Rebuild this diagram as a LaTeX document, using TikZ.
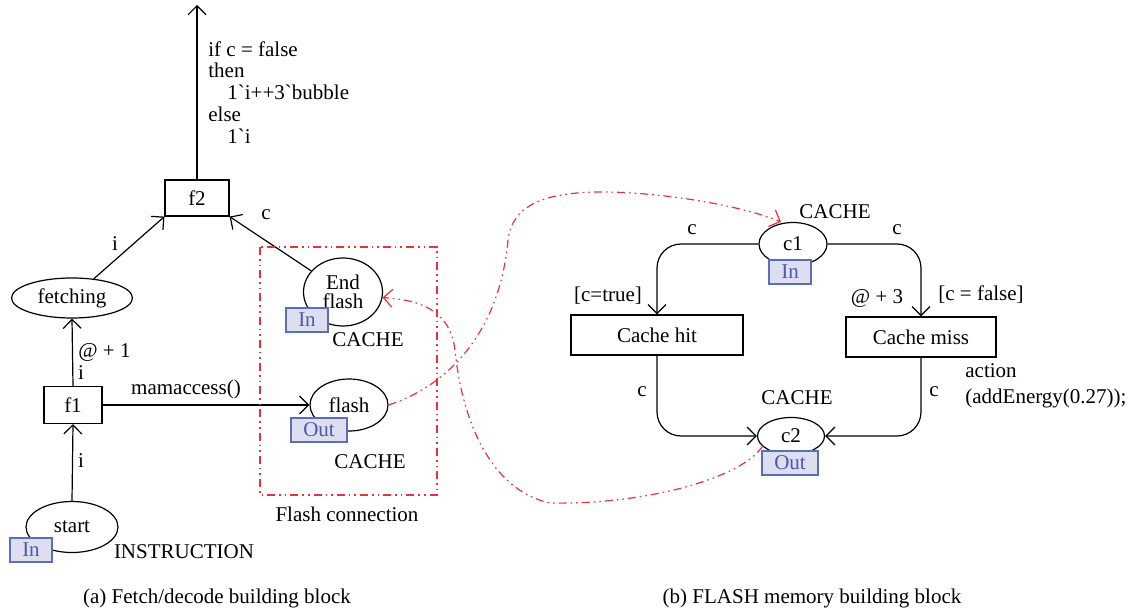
\documentclass[tikz,border=0pt]{standalone}
\usepackage{fontspec}
\setmainfont{Liberation Serif}
\usetikzlibrary{shapes.geometric,arrows.meta}
\definecolor{flred}{RGB}{232,50,58}
\definecolor{portfill}{RGB}{222,222,240}
\definecolor{portline}{RGB}{90,110,190}
\definecolor{porttext}{RGB}{70,90,175}
\tikzset{
  every node/.style={font=\fontsize{10.5}{10.9}\selectfont},
  place/.style={draw,ellipse,inner sep=0pt,line width=0.6pt},
  trans/.style={draw,rectangle,inner sep=0pt,line width=0.6pt},
  port/.style={draw=portline,fill=portfill,text=porttext,inner sep=0pt,minimum width=21pt,minimum height=12pt,line width=0.6pt},
  arc/.style={line width=0.6pt,-{Straight Barb[length=4.5pt,width=9pt]}},
  redlink/.style={flred,line width=0.6pt,dash pattern=on 4pt off 2pt on 0.8pt off 2pt on 0.8pt off 2pt,-{Straight Barb[length=4.5pt,width=9pt]}},
  lbl/.style={inner sep=0pt},
}
\begin{document}
\begin{tikzpicture}[x=0.5pt,y=-0.5pt]
\useasboundingbox (0,0) rectangle (1135,615);
% ---------- left part ----------
\node[trans,minimum width=32pt,minimum height=18pt] (f2) at (197,198) {f2};
\coordinate (top) at (197,5);
\node[place,minimum width=60.5pt,minimum height=20pt] (fetching) at (72,298) {fetching};
\node[trans,minimum width=29pt,minimum height=18.5pt] (f1) at (73,405) {f1};
\node[place,minimum width=46pt,minimum height=25.5pt] (start) at (72,527) {start};
\node[port] (startin) at (31,550) {In};
\node[place,minimum width=39.5pt,minimum height=34pt,align=center] (endf) at (343,292) {End\\[-1.5pt]flash};
\node[port] (endin) at (307,320) {In};
\node[place,minimum width=39pt,minimum height=26pt] (flash) at (349,405) {flash};
\node[port,minimum width=28pt] (flashout) at (319,430) {Out};

\draw[arc] (f2.north) -- (top);
\draw[arc] (fetching) -- (f2.south west);
\draw[arc] (endf) -- (f2.south east);
\draw[arc] (f1.north) -- (fetching.south);
\draw[arc] (start.north) -- (f1.south);
\draw[arc] (f1.east) -- (flash.west);

\node[lbl,anchor=north west,align=left] (cond) at (208,41) {if c = false\\then\\\hspace*{9.5pt}1\textasciigrave i++3\textasciigrave bubble\\else\\\hspace*{9.5pt}1\textasciigrave i};
\node[lbl] (li1) at (115,244) {i};
\node[lbl] (lc1) at (266,215) {c};
\node[lbl,anchor=west] (lat1) at (78,352) {@ + 1};
\node[lbl] (li2) at (81,373) {i};
\node[lbl] (li3) at (81,461) {i};
\node[lbl] (lmam) at (186,389) {mamaccess()};
\node[lbl] (linstr) at (184,552) {INSTRUCTION};
\node[lbl] (lcache1) at (368,340) {CACHE};
\node[lbl] (lcache2) at (370,462) {CACHE};
\draw[flred,line width=0.6pt,dash pattern=on 4pt off 2pt on 0.8pt off 2pt on 0.8pt off 2pt] (260,247) rectangle (437,495);
\node[lbl] (lflashc) at (347,514) {Flash connection};
\node[lbl] (capa) at (217,598) {(a) Fetch/decode building block};

% ---------- right part ----------
\node[place,minimum width=34pt,minimum height=21.5pt] (c1) at (793,244) {c1};
\node[port] (c1in) at (790,272) {In};
\node[trans,minimum width=86pt,minimum height=20pt] (hit) at (657,335) {Cache hit};
\node[trans,minimum width=75pt,minimum height=20pt] (miss) at (921,337) {Cache miss};
\node[place,minimum width=33.5pt,minimum height=18.5pt] (c2) at (791,436) {c2};
\node[port,minimum width=28pt] (c2out) at (790,463) {Out};

\draw[arc,rounded corners=12pt] (c1.west) -| (hit.north);
\draw[arc,rounded corners=12pt] (c1.east) -| (miss.north);
\draw[arc,rounded corners=12pt] (hit.south) |- (c2.west);
\draw[arc,rounded corners=12pt] (miss.south) |- (c2.east);

\node[lbl] (lcacheA) at (835,212) {CACHE};
\node[lbl] (lcB) at (692,230) {c};
\node[lbl] (lcC) at (897,230) {c};
\node[lbl] (ltrue) at (608,296) {[c=true]};
\node[lbl] (lat3) at (877,299) {@ + 3};
\node[lbl] (lfalse) at (981,295) {[c = false]};
\node[lbl,anchor=north west,align=left] (laction) at (965,363) {action\\[2pt](addEnergy(0.27));};
\node[lbl] (lcD) at (642,392) {c};
\node[lbl] (lcE) at (934,392) {c};
\node[lbl] (lcacheF) at (797,398) {CACHE};
\node[lbl] (capb) at (812,598) {(b) FLASH memory building block};

% ---------- red links ----------
\draw[redlink] (flash.east) .. controls (450,385) and (500,330) .. (508,240)
  .. controls (512,205) and (545,192) .. (602,192)
  .. controls (660,192) and (740,205) .. ([xshift=-6pt]c1.north);
\draw[redlink] (c2.200) .. controls (740,480) and (640,505) .. (550,503)
  .. controls (490,490) and (462,420) .. (455,350)
  .. controls (450,310) and (420,300) .. (endf.-8);
\end{tikzpicture}
\end{document}
